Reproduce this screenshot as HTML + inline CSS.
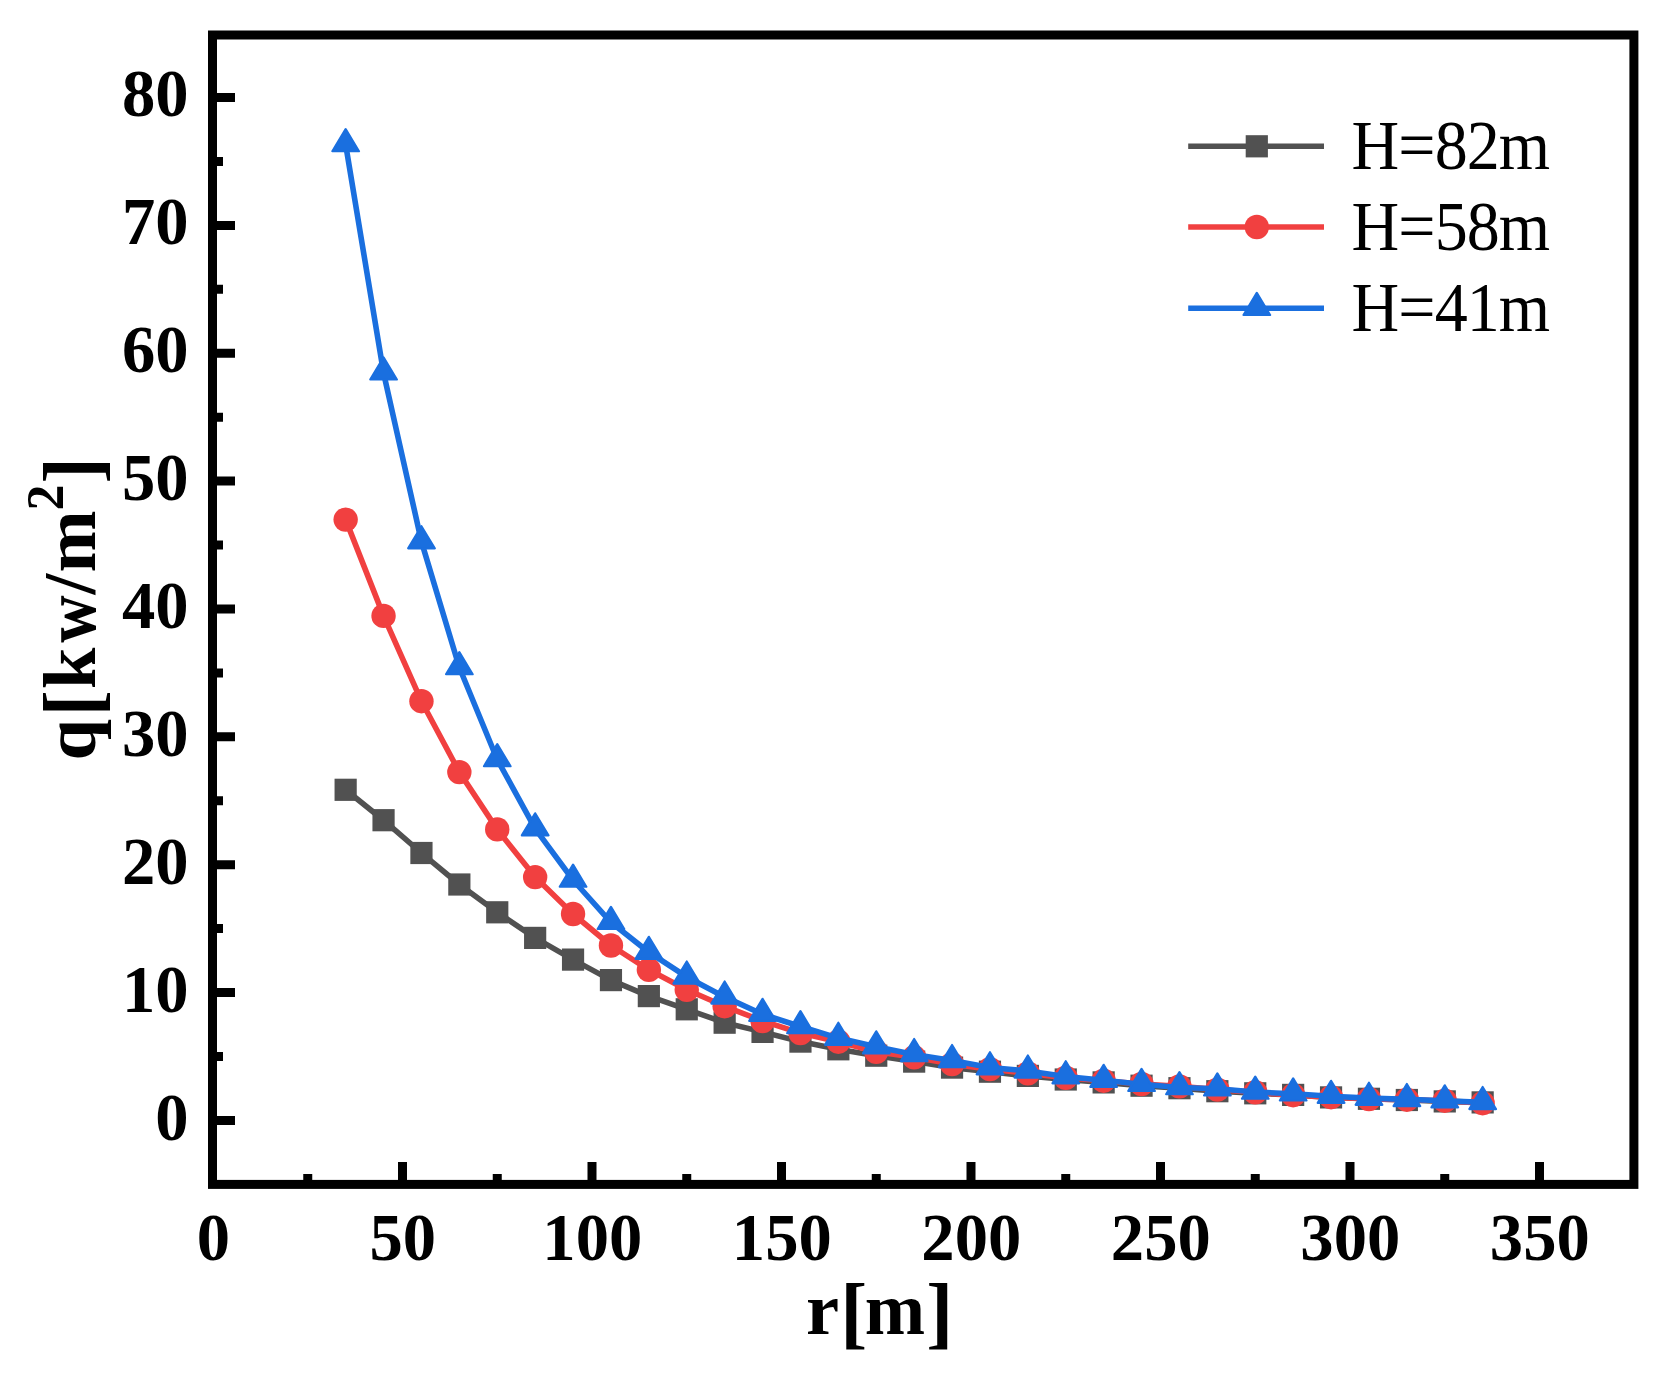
<!DOCTYPE html>
<html lang="en"><head><meta charset="utf-8"><title>q[kw/m2] vs r[m]</title>
<style>
html,body{margin:0;padding:0;background:#fff;}
body{width:1665px;height:1382px;overflow:hidden;}
svg{display:block;}
text{font-family:"Liberation Serif","Times New Roman",Times,serif;fill:#000;}
.tk{font-weight:bold;font-size:66.6px;}
.ti{font-weight:bold;font-size:76px;}
.lg{font-size:66px;}
</style></head><body>
<svg width="1665" height="1382" viewBox="0 0 1665 1382">
<rect x="0" y="0" width="1665" height="1382" fill="#fff"/>
<g fill="#515151">
<polyline fill="none" stroke="#515151" stroke-width="5.6" stroke-linejoin="round" stroke-linecap="round" points="345.65,789.8 383.55,820.2 421.45,853 459.35,884.5 497.25,912.3 535.15,937.9 573.05,959.6 610.95,980.1 648.85,996.1 686.75,1009.3 724.65,1022.7 762.55,1031.9 800.45,1041.6 838.35,1049.3 876.25,1055.7 914.15,1061.6 952.05,1067.6 989.95,1071.7 1027.85,1075.9 1065.75,1079.5 1103.65,1082.4 1141.55,1085.7 1179.45,1088.2 1217.35,1091.2 1255.25,1093.3 1293.15,1094.9 1331.05,1097.4 1368.95,1098.8 1406.85,1100 1444.75,1101.4 1482.65,1102.4"/>
<rect x="334.55" y="778.7" width="22.2" height="22.2"/>
<rect x="372.45" y="809.1" width="22.2" height="22.2"/>
<rect x="410.35" y="841.9" width="22.2" height="22.2"/>
<rect x="448.25" y="873.4" width="22.2" height="22.2"/>
<rect x="486.15" y="901.2" width="22.2" height="22.2"/>
<rect x="524.05" y="926.8" width="22.2" height="22.2"/>
<rect x="561.95" y="948.5" width="22.2" height="22.2"/>
<rect x="599.85" y="969" width="22.2" height="22.2"/>
<rect x="637.75" y="985" width="22.2" height="22.2"/>
<rect x="675.65" y="998.2" width="22.2" height="22.2"/>
<rect x="713.55" y="1011.6" width="22.2" height="22.2"/>
<rect x="751.45" y="1020.8" width="22.2" height="22.2"/>
<rect x="789.35" y="1030.5" width="22.2" height="22.2"/>
<rect x="827.25" y="1038.2" width="22.2" height="22.2"/>
<rect x="865.15" y="1044.6" width="22.2" height="22.2"/>
<rect x="903.05" y="1050.5" width="22.2" height="22.2"/>
<rect x="940.95" y="1056.5" width="22.2" height="22.2"/>
<rect x="978.85" y="1060.6" width="22.2" height="22.2"/>
<rect x="1016.75" y="1064.8" width="22.2" height="22.2"/>
<rect x="1054.65" y="1068.4" width="22.2" height="22.2"/>
<rect x="1092.55" y="1071.3" width="22.2" height="22.2"/>
<rect x="1130.45" y="1074.6" width="22.2" height="22.2"/>
<rect x="1168.35" y="1077.1" width="22.2" height="22.2"/>
<rect x="1206.25" y="1080.1" width="22.2" height="22.2"/>
<rect x="1244.15" y="1082.2" width="22.2" height="22.2"/>
<rect x="1282.05" y="1083.8" width="22.2" height="22.2"/>
<rect x="1319.95" y="1086.3" width="22.2" height="22.2"/>
<rect x="1357.85" y="1087.7" width="22.2" height="22.2"/>
<rect x="1395.75" y="1088.9" width="22.2" height="22.2"/>
<rect x="1433.65" y="1090.3" width="22.2" height="22.2"/>
<rect x="1471.55" y="1091.3" width="22.2" height="22.2"/>
</g>
<g fill="#F14040">
<polyline fill="none" stroke="#F14040" stroke-width="5.6" stroke-linejoin="round" stroke-linecap="round" points="345.65,519.6 383.55,615.9 421.45,701.2 459.35,772.1 497.25,829.4 535.15,877.1 573.05,914 610.95,945.5 648.85,969.8 686.75,989.8 724.65,1006.3 762.55,1021 800.45,1033.1 838.35,1041.7 876.25,1051.8 914.15,1057.3 952.05,1064.1 989.95,1069.1 1027.85,1073.4 1065.75,1077.8 1103.65,1080.7 1141.55,1084 1179.45,1086.4 1217.35,1089.6 1255.25,1092.3 1293.15,1095.2 1331.05,1097.2 1368.95,1099 1406.85,1099.7 1444.75,1100.7 1482.65,1103.2"/>
<circle cx="345.65" cy="519.6" r="12.2"/>
<circle cx="383.55" cy="615.9" r="12.2"/>
<circle cx="421.45" cy="701.2" r="12.2"/>
<circle cx="459.35" cy="772.1" r="12.2"/>
<circle cx="497.25" cy="829.4" r="12.2"/>
<circle cx="535.15" cy="877.1" r="12.2"/>
<circle cx="573.05" cy="914" r="12.2"/>
<circle cx="610.95" cy="945.5" r="12.2"/>
<circle cx="648.85" cy="969.8" r="12.2"/>
<circle cx="686.75" cy="989.8" r="12.2"/>
<circle cx="724.65" cy="1006.3" r="12.2"/>
<circle cx="762.55" cy="1021" r="12.2"/>
<circle cx="800.45" cy="1033.1" r="12.2"/>
<circle cx="838.35" cy="1041.7" r="12.2"/>
<circle cx="876.25" cy="1051.8" r="12.2"/>
<circle cx="914.15" cy="1057.3" r="12.2"/>
<circle cx="952.05" cy="1064.1" r="12.2"/>
<circle cx="989.95" cy="1069.1" r="12.2"/>
<circle cx="1027.85" cy="1073.4" r="12.2"/>
<circle cx="1065.75" cy="1077.8" r="12.2"/>
<circle cx="1103.65" cy="1080.7" r="12.2"/>
<circle cx="1141.55" cy="1084" r="12.2"/>
<circle cx="1179.45" cy="1086.4" r="12.2"/>
<circle cx="1217.35" cy="1089.6" r="12.2"/>
<circle cx="1255.25" cy="1092.3" r="12.2"/>
<circle cx="1293.15" cy="1095.2" r="12.2"/>
<circle cx="1331.05" cy="1097.2" r="12.2"/>
<circle cx="1368.95" cy="1099" r="12.2"/>
<circle cx="1406.85" cy="1099.7" r="12.2"/>
<circle cx="1444.75" cy="1100.7" r="12.2"/>
<circle cx="1482.65" cy="1103.2" r="12.2"/>
</g>
<g fill="#1A6FDF">
<polyline fill="none" stroke="#1A6FDF" stroke-width="5.6" stroke-linejoin="round" stroke-linecap="round" points="345.65,144.5 383.55,372.8 421.45,541.6 459.35,667.5 497.25,759.5 535.15,828.7 573.05,880 610.95,922.3 648.85,952.2 686.75,976.9 724.65,996.9 762.55,1014.2 800.45,1026.5 838.35,1038.1 876.25,1046.7 914.15,1054.4 952.05,1060.4 989.95,1067.6 1027.85,1070.9 1065.75,1076.6 1103.65,1080.2 1141.55,1084.3 1179.45,1087.5 1217.35,1088.8 1255.25,1092 1293.15,1093.8 1331.05,1096.2 1368.95,1098.1 1406.85,1099.4 1444.75,1100.7 1482.65,1102.4"/>
<path stroke="#1A6FDF" stroke-width="2.2" stroke-linejoin="round" d="M345.65 129.1L358.95 151.2L332.35 151.2ZM383.55 357.4L396.85 379.5L370.25 379.5ZM421.45 526.2L434.75 548.3L408.15 548.3ZM459.35 652.1L472.65 674.2L446.05 674.2ZM497.25 744.1L510.55 766.2L483.95 766.2ZM535.15 813.3L548.45 835.4L521.85 835.4ZM573.05 864.6L586.35 886.7L559.75 886.7ZM610.95 906.9L624.25 929L597.65 929ZM648.85 936.8L662.15 958.9L635.55 958.9ZM686.75 961.5L700.05 983.6L673.45 983.6ZM724.65 981.5L737.95 1003.6L711.35 1003.6ZM762.55 998.8L775.85 1020.9L749.25 1020.9ZM800.45 1011.1L813.75 1033.2L787.15 1033.2ZM838.35 1022.7L851.65 1044.8L825.05 1044.8ZM876.25 1031.3L889.55 1053.4L862.95 1053.4ZM914.15 1039L927.45 1061.1L900.85 1061.1ZM952.05 1045L965.35 1067.1L938.75 1067.1ZM989.95 1052.2L1003.25 1074.3L976.65 1074.3ZM1027.85 1055.5L1041.15 1077.6L1014.55 1077.6ZM1065.75 1061.2L1079.05 1083.3L1052.45 1083.3ZM1103.65 1064.8L1116.95 1086.9L1090.35 1086.9ZM1141.55 1068.9L1154.85 1091L1128.25 1091ZM1179.45 1072.1L1192.75 1094.2L1166.15 1094.2ZM1217.35 1073.4L1230.65 1095.5L1204.05 1095.5ZM1255.25 1076.6L1268.55 1098.7L1241.95 1098.7ZM1293.15 1078.4L1306.45 1100.5L1279.85 1100.5ZM1331.05 1080.8L1344.35 1102.9L1317.75 1102.9ZM1368.95 1082.7L1382.25 1104.8L1355.65 1104.8ZM1406.85 1084L1420.15 1106.1L1393.55 1106.1ZM1444.75 1085.3L1458.05 1107.4L1431.45 1107.4ZM1482.65 1087L1495.95 1109.1L1469.35 1109.1Z"/>
</g>
<path d="M402.5 1184.4V1161.9M592 1184.4V1161.9M781.5 1184.4V1161.9M971 1184.4V1161.9M1160.5 1184.4V1161.9M1350 1184.4V1161.9M1539.5 1184.4V1161.9M307.75 1184.4V1173.9M497.25 1184.4V1173.9M686.75 1184.4V1173.9M876.25 1184.4V1173.9M1065.75 1184.4V1173.9M1255.25 1184.4V1173.9M1444.75 1184.4V1173.9M212.5 1120.4H235M212.5 992.54H235M212.5 864.68H235M212.5 736.82H235M212.5 608.96H235M212.5 481.1H235M212.5 353.24H235M212.5 225.38H235M212.5 97.52H235M212.5 1056.47H223M212.5 928.61H223M212.5 800.75H223M212.5 672.89H223M212.5 545.03H223M212.5 417.17H223M212.5 289.31H223M212.5 161.45H223" stroke="#000" stroke-width="9" fill="none"/>
<rect x="212.5" y="35" width="1421.4" height="1149.4" fill="none" stroke="#000" stroke-width="9"/>
<text class="tk" text-anchor="middle" transform="translate(213.3 1260.2) scale(1 1.03)">0</text>
<text class="tk" text-anchor="middle" transform="translate(402.8 1260.2) scale(1 1.03)">50</text>
<text class="tk" text-anchor="middle" transform="translate(592.3 1260.2) scale(1 1.03)">100</text>
<text class="tk" text-anchor="middle" transform="translate(781.8 1260.2) scale(1 1.03)">150</text>
<text class="tk" text-anchor="middle" transform="translate(971.3 1260.2) scale(1 1.03)">200</text>
<text class="tk" text-anchor="middle" transform="translate(1160.8 1260.2) scale(1 1.03)">250</text>
<text class="tk" text-anchor="middle" transform="translate(1350.3 1260.2) scale(1 1.03)">300</text>
<text class="tk" text-anchor="middle" transform="translate(1539.8 1260.2) scale(1 1.03)">350</text>
<text class="tk" text-anchor="end" transform="translate(188.6 1140.4) scale(1 1.03)">0</text>
<text class="tk" text-anchor="end" transform="translate(188.6 1012.3) scale(1 1.03)">10</text>
<text class="tk" text-anchor="end" transform="translate(188.6 884.21) scale(1 1.03)">20</text>
<text class="tk" text-anchor="end" transform="translate(188.6 756.11) scale(1 1.03)">30</text>
<text class="tk" text-anchor="end" transform="translate(188.6 628.01) scale(1 1.03)">40</text>
<text class="tk" text-anchor="end" transform="translate(188.6 499.91) scale(1 1.03)">50</text>
<text class="tk" text-anchor="end" transform="translate(188.6 371.82) scale(1 1.03)">60</text>
<text class="tk" text-anchor="end" transform="translate(188.6 243.72) scale(1 1.03)">70</text>
<text class="tk" text-anchor="end" transform="translate(188.6 115.62) scale(1 1.03)">80</text>
<text class="ti" style="font-size:74.6px" transform="translate(806 1333.5)">r<tspan font-size="81" dy="5" dx="1.2">[</tspan><tspan dy="-5" dx="-2.6" textLength="60.3" lengthAdjust="spacingAndGlyphs">m</tspan><tspan font-size="81" dy="5" dx="1.2">]</tspan></text>
<text class="ti" style="font-size:74.6px" transform="translate(95.3 760.5) rotate(-90)">q<tspan font-size="79.5" dy="3.7" dx="2.5">[</tspan><tspan dy="-3.7" dx="1">k</tspan><tspan dx="4.7" textLength="47.4" lengthAdjust="spacingAndGlyphs">w</tspan><tspan dx="1">/</tspan><tspan dx="1.3">m</tspan><tspan font-size="52" dy="-32.6" dx="-0.3">2</tspan><tspan font-size="79.5" dy="36.3" dx="1">]</tspan></text>
<line x1="1188.2" y1="146.3" x2="1324" y2="146.3" stroke="#515151" stroke-width="5.6"/>
<rect x="1245.7" y="135.2" width="22.2" height="22.2" fill="#515151"/>
<text class="lg" letter-spacing="-0.9" transform="translate(1351.6 168.8) scale(1 1.05)">H=82m</text>
<line x1="1188.2" y1="227" x2="1324" y2="227" stroke="#F14040" stroke-width="5.6"/>
<circle cx="1256.8" cy="227" r="12.2" fill="#F14040"/>
<text class="lg" letter-spacing="-0.9" transform="translate(1351.6 250.3) scale(1 1.05)">H=58m</text>
<line x1="1188.2" y1="308.3" x2="1324" y2="308.3" stroke="#1A6FDF" stroke-width="5.6"/>
<path d="M1256.8 292.9L1270.1 315L1243.5 315Z" fill="#1A6FDF" stroke="#1A6FDF" stroke-width="2.2" stroke-linejoin="round"/>
<text class="lg" letter-spacing="-0.9" transform="translate(1351.6 330.8) scale(1 1.05)">H=41m</text>
</svg></body></html>
